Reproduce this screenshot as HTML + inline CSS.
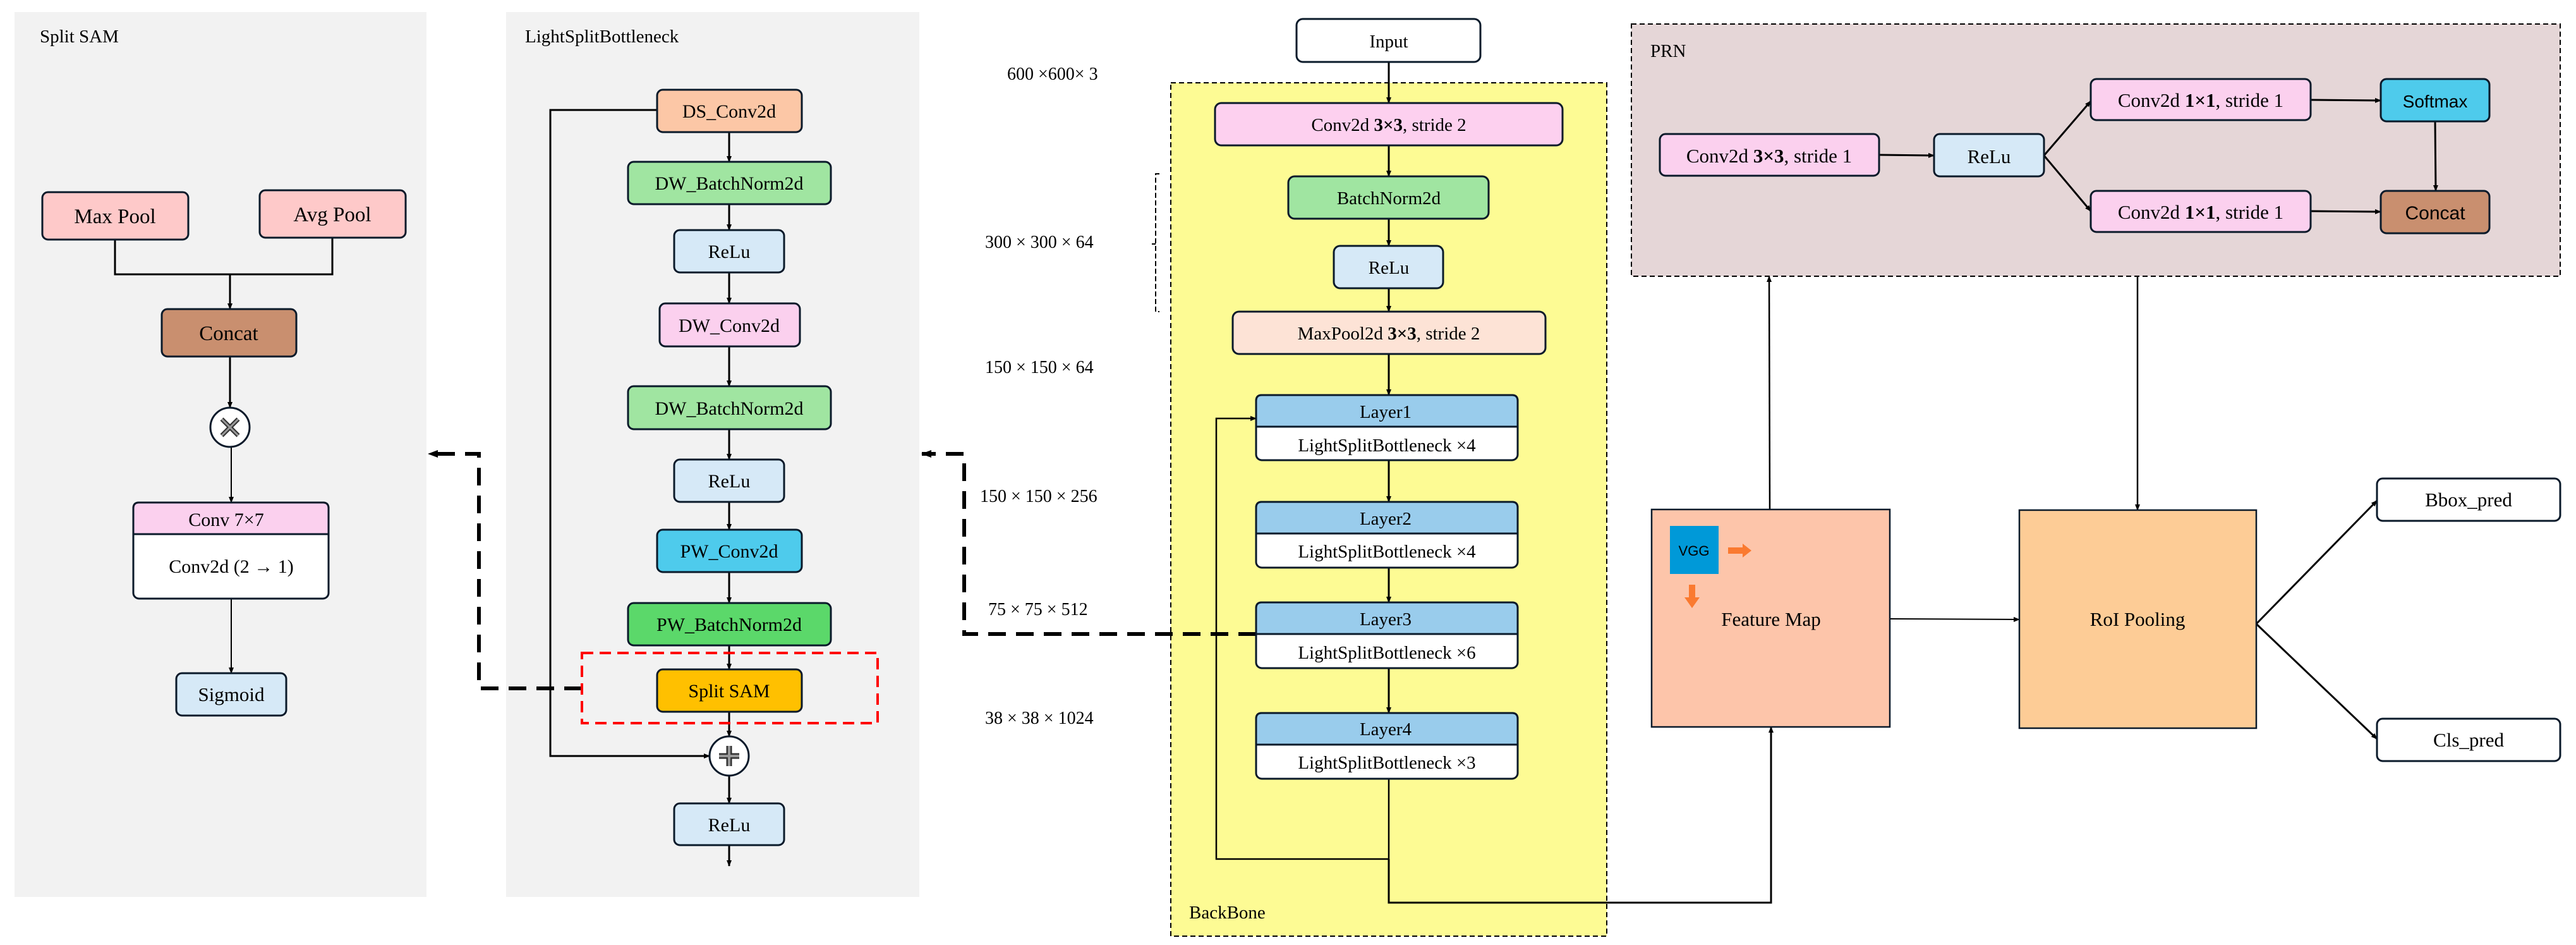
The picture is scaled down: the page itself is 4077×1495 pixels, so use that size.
<!DOCTYPE html>
<html><head><meta charset="utf-8"><style>
html,body{margin:0;padding:0;background:#fff}
svg{display:block}
text{font-family:"Liberation Serif",serif;fill:#000}
</style></head><body>
<svg width="4077" height="1495" viewBox="0 0 4077 1495" xmlns="http://www.w3.org/2000/svg">
<defs>
<marker id="a" markerWidth="10" markerHeight="10" refX="9" refY="5" orient="auto" markerUnits="userSpaceOnUse"><path d="M0,1 L10,5 L0,9 Z" fill="#000"/></marker>
<marker id="b" markerWidth="16" markerHeight="16" refX="15" refY="8" orient="auto" markerUnits="userSpaceOnUse"><path d="M0,2 L16,8 L0,14 Z" fill="#000"/></marker>
</defs>
<g stroke="#0a1a2a" stroke-width="3">
<rect x="23" y="19" width="652" height="1400" fill="#f2f2f2" stroke="none"/>
<rect x="801" y="19" width="654" height="1400" fill="#f2f2f2" stroke="none"/>
<rect x="1853" y="131" width="690" height="1350" fill="#fdfb94" stroke="#000" stroke-width="2" stroke-dasharray="8,5"/>
<rect x="2582" y="38" width="1470" height="399" fill="#e5d6d7" stroke="#000" stroke-width="2" stroke-dasharray="8,5"/>
</g>
<g font-size="29">
<text x="63" y="67">Split SAM</text>
<text x="831" y="67">LightSplitBottleneck</text>
<text x="2612" y="90">PRN</text>
<text x="1882" y="1453">BackBone</text>
</g>
<g stroke="#000" stroke-width="3" fill="none">
<path d="M182 379 V434 H526 V376"/>
<path d="M364 434 V489" marker-end="url(#a)"/>
<path d="M364 564 V645" marker-end="url(#a)"/>
<path d="M366 707 V795" marker-end="url(#a)" stroke-width="2"/>
<path d="M366 947 V1065" marker-end="url(#a)" stroke-width="2"/>
<path d="M1154 209 V256" marker-end="url(#a)"/>
<path d="M1154 323 V364" marker-end="url(#a)"/>
<path d="M1154 431 V480" marker-end="url(#a)"/>
<path d="M1154 548 V611" marker-end="url(#a)"/>
<path d="M1154 679 V727" marker-end="url(#a)"/>
<path d="M1154 794 V838" marker-end="url(#a)"/>
<path d="M1154 905 V954" marker-end="url(#a)"/>
<path d="M1154 1021 V1059" marker-end="url(#a)"/>
<path d="M1154 1126 V1165" marker-end="url(#a)"/>
<path d="M1154 1227 V1271" marker-end="url(#a)"/>
<path d="M1154 1337 V1370" marker-end="url(#a)"/>
<path d="M1040 174 H871 V1196 H1123" marker-end="url(#a)"/>
<path d="M2198 98 V163" marker-end="url(#a)"/>
<path d="M2198 230 V279" marker-end="url(#a)"/>
<path d="M2198 346 V389" marker-end="url(#a)"/>
<path d="M2198 456 V493" marker-end="url(#a)"/>
<path d="M2198 560 V625" marker-end="url(#a)"/>
<path d="M2198 728 V794" marker-end="url(#a)"/>
<path d="M2198 898 V953" marker-end="url(#a)"/>
<path d="M2198 1057 V1128" marker-end="url(#a)"/>
<path d="M2198 1232 V1359 H1925 V662 H1988" marker-end="url(#a)" stroke-width="2.5"/>
<path d="M2198 1359 V1428 H2803 V1150" marker-end="url(#a)"/>
<path d="M2801 806 L2800 437" marker-end="url(#a)" stroke-width="2.5"/>
<path d="M3383 437 V807" marker-end="url(#a)" stroke-width="2.5"/>
<path d="M2991 979 L3196 980" marker-end="url(#a)" stroke-width="2"/>
<path d="M3571 987 L3762 792" marker-end="url(#a)"/>
<path d="M3571 987 L3762 1169" marker-end="url(#a)"/>
<path d="M2974 245 L3061 246" marker-end="url(#a)"/>
<path d="M3235 246 L3309 160" marker-end="url(#a)"/>
<path d="M3235 246 L3309 334" marker-end="url(#a)"/>
<path d="M3657 158 L3768 159" marker-end="url(#a)"/>
<path d="M3657 334 L3768 335" marker-end="url(#a)"/>
<path d="M3854 192 L3855 302" marker-end="url(#a)"/>
<path d="M1835 275 H1829 V493 H1835 M1829 386 H1823" stroke-width="2" stroke-dasharray="8,4"/>
<path d="M921 1089 H758 V718 H678" stroke-width="6" stroke-dasharray="28,16" marker-end="url(#b)"/>
<path d="M1988 1003 H1526 V718 H1459" stroke-width="6" stroke-dasharray="28,16" marker-end="url(#b)"/>
<rect x="921" y="1033" width="468" height="111" stroke="#f00" stroke-width="4" stroke-dasharray="18,10"/>
</g>
<g stroke="#0a1a2a" stroke-width="3">
<rect x="67" y="304" width="231" height="75" rx="9" fill="#fec9c9"/>
<rect x="411" y="301" width="231" height="75" rx="9" fill="#fec9c9"/>
<rect x="256" y="489" width="213" height="75" rx="9" fill="#c98f6f"/>
<circle cx="364" cy="676" r="31" fill="#fff"/>
<rect x="211" y="795" width="309" height="152" rx="9" fill="#fff"/>
<path d="M211 845 V804 Q211 795 220 795 H511 Q520 795 520 804 V845 Z" fill="#fbd0ee"/>
<rect x="279" y="1065" width="174" height="67" rx="9" fill="#d6e9f7"/>
<rect x="1040" y="142" width="229" height="67" rx="9" fill="#fcc7a6"/>
<rect x="994" y="256" width="321" height="67" rx="9" fill="#a0e5a1"/>
<rect x="1067" y="364" width="174" height="67" rx="9" fill="#d6e9f7"/>
<rect x="1044" y="480" width="222" height="68" rx="9" fill="#fbd0ee"/>
<rect x="994" y="611" width="321" height="68" rx="9" fill="#a0e5a1"/>
<rect x="1067" y="727" width="174" height="67" rx="9" fill="#d6e9f7"/>
<rect x="1040" y="838" width="229" height="67" rx="9" fill="#4ecbec"/>
<rect x="994" y="954" width="321" height="67" rx="9" fill="#5bd86a"/>
<rect x="1040" y="1059" width="229" height="67" rx="9" fill="#ffc000"/>
<circle cx="1154" cy="1196" r="31" fill="#fff"/>
<rect x="1067" y="1271" width="174" height="66" rx="9" fill="#d6e9f7"/>
<rect x="2052" y="30" width="291" height="68" rx="10" fill="#fff"/>
<rect x="1923" y="163" width="550" height="67" rx="10" fill="#fdd0ef"/>
<rect x="2039" y="279" width="317" height="67" rx="10" fill="#a0e5a1"/>
<rect x="2111" y="389" width="173" height="67" rx="10" fill="#d6e9f7"/>
<rect x="1951" y="493" width="495" height="67" rx="10" fill="#fde3d6"/>
<rect x="1988" y="625" width="414" height="103" rx="9" fill="#fff"/><path d="M1988 675 V634 Q1988 625 1997 625 H2393 Q2402 625 2402 634 V675 Z" fill="#99ccec"/>
<rect x="1988" y="794" width="414" height="104" rx="9" fill="#fff"/><path d="M1988 844 V803 Q1988 794 1997 794 H2393 Q2402 794 2402 803 V844 Z" fill="#99ccec"/>
<rect x="1988" y="953" width="414" height="104" rx="9" fill="#fff"/><path d="M1988 1003 V962 Q1988 953 1997 953 H2393 Q2402 953 2402 962 V1003 Z" fill="#99ccec"/>
<rect x="1988" y="1128" width="414" height="104" rx="9" fill="#fff"/><path d="M1988 1178 V1137 Q1988 1128 1997 1128 H2393 Q2402 1128 2402 1137 V1178 Z" fill="#99ccec"/>
<rect x="2627" y="212" width="347" height="66" rx="9" fill="#fbd0ee"/>
<rect x="3061" y="212" width="174" height="67" rx="9" fill="#d6e9f7"/>
<rect x="3309" y="125" width="348" height="65" rx="9" fill="#fbd0ee"/>
<rect x="3309" y="302" width="348" height="65" rx="9" fill="#fbd0ee"/>
<rect x="3768" y="125" width="172" height="67" rx="9" fill="#4ecbec"/>
<rect x="3768" y="302" width="172" height="67" rx="9" fill="#c98f6f"/>
<rect x="2614" y="806" width="377" height="344" fill="#fdc5aa" stroke-width="2.5"/>
<rect x="3196" y="807" width="375" height="345" fill="#fdcc96" stroke-width="2.5"/>
<rect x="3762" y="757" width="290" height="67" rx="9" fill="#fff"/>
<rect x="3762" y="1137" width="290" height="67" rx="9" fill="#fff"/>
</g>
<g stroke="#000" stroke-width="2">
<path d="M351 663 L377 689 M377 663 L351 689" stroke="#333" stroke-width="7"/>
<path d="M351 663 L377 689 M377 663 L351 689" stroke="#999" stroke-width="3"/>
<path d="M1154 1180 V1212 M1138 1196 H1170" stroke="#333" stroke-width="9"/>
<path d="M1154 1180 V1212 M1138 1196 H1170" stroke="#999" stroke-width="4"/>
</g>
<rect x="2643" y="832" width="77" height="76" fill="#0099d8"/>
<text x="2681" y="879" font-size="22" text-anchor="middle" style="font-family:'Liberation Sans',sans-serif">VGG</text>
<path d="M2735 866 H2758 V860 L2772 871 L2758 882 V876 H2735 Z" fill="#fa7a30"/>
<path d="M2673 925 V945 H2666 L2678 962 L2690 945 H2683 V925 Z" fill="#fa7a30"/>
<g font-size="33" text-anchor="middle">
<text x="182" y="353">Max Pool</text>
<text x="526" y="350">Avg Pool</text>
<text x="362" y="538">Concat</text>
<text x="358" y="832" font-size="30">Conv 7×7</text>
<text x="366" y="906" font-size="30">Conv2d (2 → 1)</text>
<text x="366" y="1109" font-size="31">Sigmoid</text>
<text x="1154" y="186" font-size="30">DS_Conv2d</text>
<text x="1154" y="300" font-size="30">DW_BatchNorm2d</text>
<text x="1154" y="408" font-size="30">ReLu</text>
<text x="1154" y="525" font-size="30">DW_Conv2d</text>
<text x="1154" y="656" font-size="30">DW_BatchNorm2d</text>
<text x="1154" y="771" font-size="30">ReLu</text>
<text x="1154" y="882" font-size="30">PW_Conv2d</text>
<text x="1154" y="998" font-size="30">PW_BatchNorm2d</text>
<text x="1154" y="1103" font-size="30">Split SAM</text>
<text x="1154" y="1315" font-size="30">ReLu</text>
</g>
<g font-size="29" text-anchor="middle">
<text x="2198" y="75">Input</text>
<text x="2198" y="207">Conv2d <tspan font-weight="bold">3×3</tspan>, stride 2</text>
<text x="2198" y="323">BatchNorm2d</text>
<text x="2198" y="433">ReLu</text>
<text x="2198" y="537">MaxPool2d <tspan font-weight="bold">3×3</tspan>, stride 2</text>
<text x="2193" y="661">Layer1</text><text x="2195" y="714">LightSplitBottleneck ×4</text>
<text x="2193" y="830">Layer2</text><text x="2195" y="882">LightSplitBottleneck ×4</text>
<text x="2193" y="989">Layer3</text><text x="2195" y="1042">LightSplitBottleneck ×6</text>
<text x="2193" y="1163">Layer4</text><text x="2195" y="1216">LightSplitBottleneck ×3</text>
</g>
<g font-size="31" text-anchor="middle">
<text x="2800" y="257">Conv2d <tspan font-weight="bold">3×3</tspan>, stride 1</text>
<text x="3148" y="258">ReLu</text>
<text x="3483" y="169">Conv2d <tspan font-weight="bold">1×1</tspan>, stride 1</text>
<text x="3483" y="346">Conv2d <tspan font-weight="bold">1×1</tspan>, stride 1</text>
<text x="3854" y="170" style="font-family:'Liberation Sans',sans-serif" font-size="28">Softmax</text>
<text x="3854" y="347" style="font-family:'Liberation Sans',sans-serif" font-size="30">Concat</text>
<text x="2803" y="990">Feature Map</text>
<text x="3383" y="990">RoI Pooling</text>
<text x="3907" y="801">Bbox_pred</text>
<text x="3907" y="1181">Cls_pred</text>
</g>
<g font-size="28">
<text x="1594" y="126">600 ×600× 3</text>
<text x="1559" y="392">300 × 300 × 64</text>
<text x="1559" y="590">150 × 150 × 64</text>
<text x="1551" y="794">150 × 150 × 256</text>
<text x="1564" y="973">75 × 75 × 512</text>
<text x="1559" y="1145">38 × 38 × 1024</text>
</g>
</svg>
</body></html>
